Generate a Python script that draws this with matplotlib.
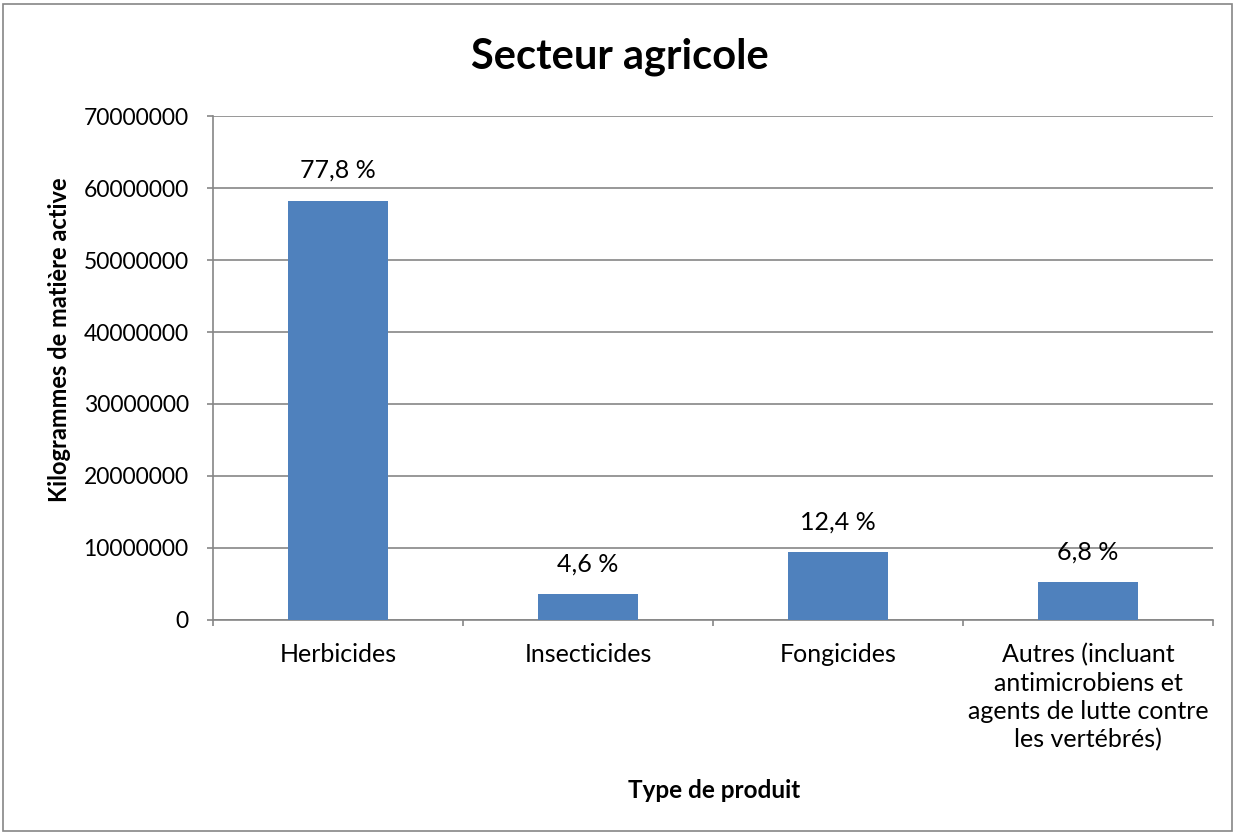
import matplotlib.pyplot as plt
from matplotlib.patches import Rectangle

# Data
categories = ['Herbicides', 'Insecticides', 'Fongicides',
              'Autres (incluant\nantimicrobiens et\nagents de lutte contre\nles vertébrés)']
values = [58300000, 3500000, 9350000, 5200000]
pct_labels = ['77,8 %', '4,6 %', '12,4 %', '6,8 %']
y_ticks = [0, 10000000, 20000000, 30000000, 40000000, 50000000, 60000000, 70000000]

plt.rcParams['font.family'] = ['Lato', 'DejaVu Sans']

W, H = 1236, 835
fig = plt.figure(figsize=(W / 100, H / 100), dpi=100)
ax = fig.add_axes([213 / W, 1 - 619.5 / H, 1000 / W, 503 / H])

# outer chart border
fig.patches.append(Rectangle((3 / W, 4 / H), 1229 / W, 827 / H,
                             transform=fig.transFigure, fill=False,
                             edgecolor='#868686', linewidth=1.2))

x = list(range(len(categories)))
bars = ax.bar(x, values, width=0.4, color='#4F81BD', zorder=3)

# percentage labels above bars
for b, lab in zip(bars, pct_labels):
    ax.annotate(lab, (b.get_x() + b.get_width() / 2, b.get_height()),
                xytext=(0, 16.5), textcoords='offset points',
                ha='center', va='baseline', fontsize=18)

ax.set_xlim(-0.5, len(categories) - 0.5)
ax.set_ylim(0, 70000000)
ax.set_yticks(y_ticks)
ax.set_yticklabels([str(t) for t in y_ticks], fontsize=16.5)
ax.yaxis.grid(True, color='#868686', linewidth=1.2, zorder=0)

# category labels between boundary ticks
ax.set_xticks(x)
ax.set_xticklabels(categories, fontsize=18, linespacing=1.28)
ax.tick_params(axis='x', length=0, pad=17)
ax.set_xticks([i - 0.5 for i in range(len(categories) + 1)], minor=True)
ax.tick_params(axis='x', which='minor', length=4.5, color='#868686', width=1.2)
ax.tick_params(axis='y', length=4.5, color='#868686', width=1.2, pad=13)

for s in ['top', 'right']:
    ax.spines[s].set_visible(False)
for s in ['left', 'bottom']:
    ax.spines[s].set_color('#868686')
    ax.spines[s].set_linewidth(1.2)

fig.text(60 / W, 1 - 340 / H, 'Kilogrammes de matière active', fontsize=17,
         fontweight='bold', rotation=90, ha='center', va='center')
fig.text(714 / W, 1 - 798 / H, 'Type de produit', fontsize=17.5,
         fontweight='bold', ha='center', va='baseline')
fig.text(620 / W, 1 - 68 / H, 'Secteur agricole', fontsize=30,
         fontweight='bold', ha='center', va='baseline')

fig.savefig('out.png', dpi=100)
